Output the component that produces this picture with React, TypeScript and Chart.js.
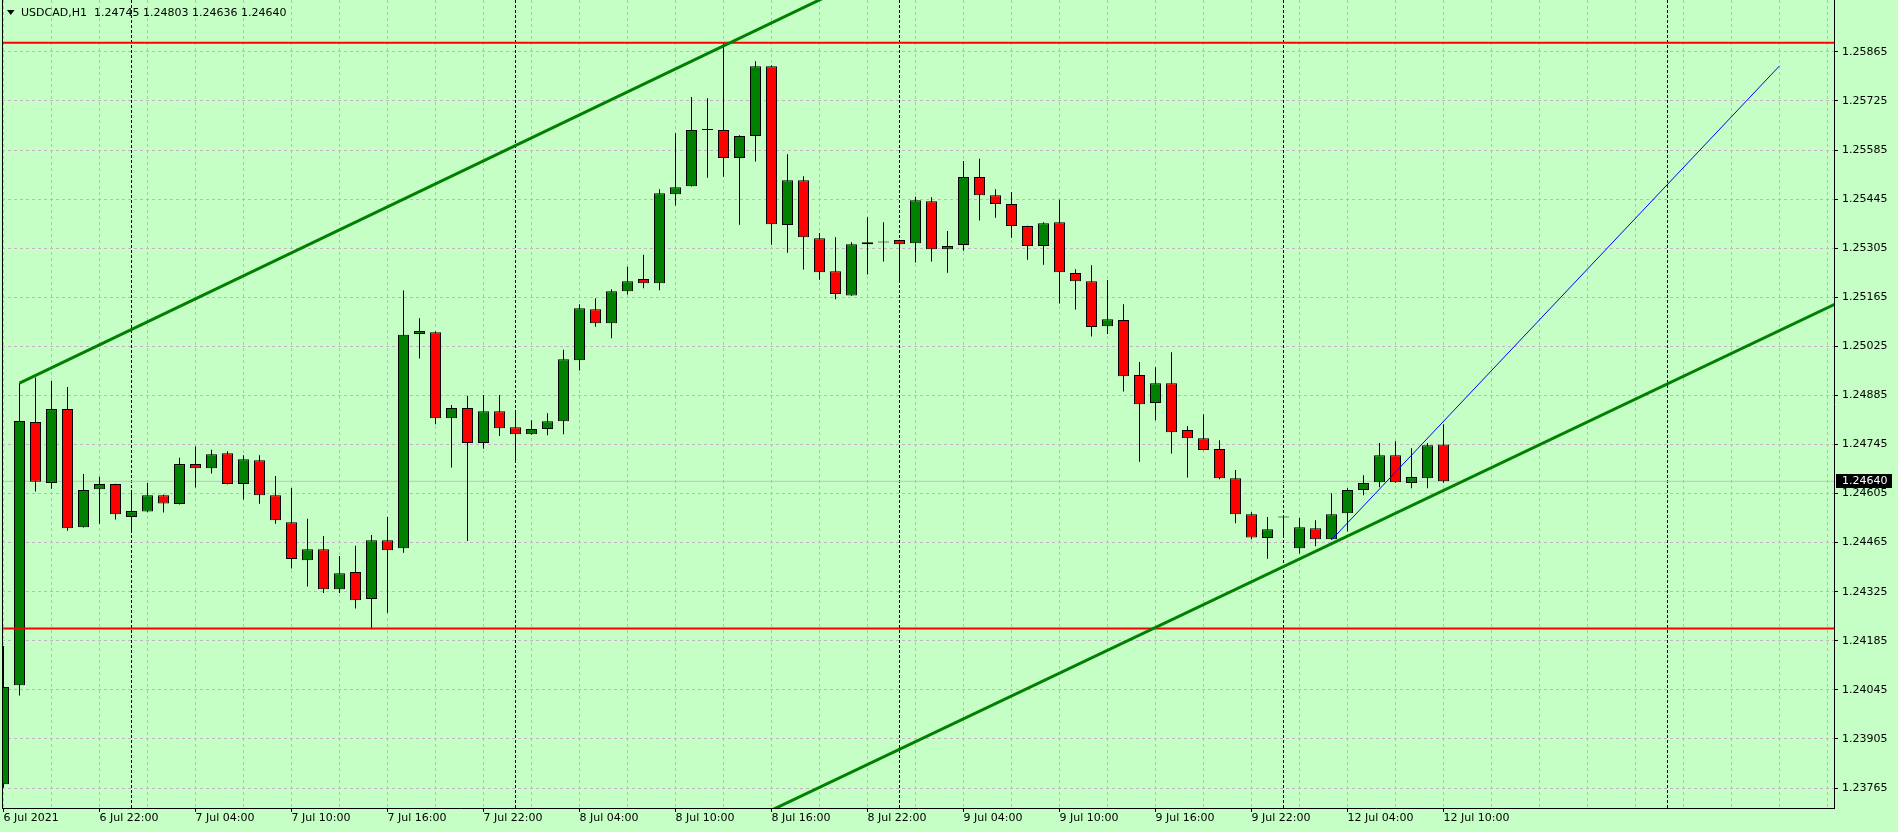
import React, { useEffect, useRef } from 'react';
import { Chart, registerables } from 'chart.js';

Chart.register(...registerables);

// ---- Data (hourly bars, 6 Jul 2021 16:00 -> 12 Jul 2021 10:00) ----
const opens = [
  1.23776, 1.24058, 1.24809, 1.24635, 1.24846, 1.24509, 1.24617, 1.24632, 1.24538, 1.24554,
  1.24600, 1.24575, 1.24689, 1.24677, 1.24720, 1.24632, 1.24700, 1.24600, 1.24523, 1.24415,
  1.24446, 1.24332, 1.24381, 1.24304, 1.24472, 1.24449, 1.25060, 1.25065, 1.24820, 1.24849,
  1.24749, 1.24840, 1.24794, 1.24774, 1.24789, 1.24811, 1.24985, 1.25131, 1.25091, 1.25182,
  1.25217, 1.25205, 1.25459, 1.25482, 1.25642, 1.25642, 1.25562, 1.25625, 1.25824, 1.25371,
  1.25499, 1.25333, 1.25239, 1.25170, 1.25316, 1.25321, 1.25328, 1.25319, 1.25439, 1.25302,
  1.25314, 1.25508, 1.25456, 1.25431, 1.25368, 1.25311, 1.25379, 1.25234, 1.25211, 1.25082,
  1.25100, 1.24943, 1.24863, 1.24920, 1.24786, 1.24763, 1.24732, 1.24649, 1.24546, 1.24478,
  1.24537, 1.24449, 1.24506, 1.24475, 1.24549, 1.24615, 1.24637, 1.24714, 1.24635, 1.24649,
  1.24745,
];
const highs = [
  1.24170, 1.24920, 1.24936, 1.24926, 1.24909, 1.24661, 1.24653, 1.24633, 1.24608, 1.24635,
  1.24602, 1.24707, 1.24739, 1.24730, 1.24726, 1.24714, 1.24714, 1.24655, 1.24621, 1.24533,
  1.24484, 1.24427, 1.24456, 1.24487, 1.24538, 1.25184, 1.25105, 1.25068, 1.24858, 1.24884,
  1.24886, 1.24886, 1.24843, 1.24814, 1.24834, 1.25015, 1.25145, 1.25162, 1.25188, 1.25252,
  1.25286, 1.25473, 1.25633, 1.25736, 1.25733, 1.25892, 1.25627, 1.25838, 1.25827, 1.25573,
  1.25510, 1.25348, 1.25336, 1.25322, 1.25393, 1.25379, 1.25329, 1.25452, 1.25450, 1.25354,
  1.25554, 1.25560, 1.25473, 1.25465, 1.25369, 1.25379, 1.25443, 1.25245, 1.25256, 1.25214,
  1.25145, 1.24980, 1.24965, 1.25008, 1.24797, 1.24831, 1.24757, 1.24672, 1.24552, 1.24538,
  1.24537, 1.24535, 1.24529, 1.24606, 1.24620, 1.24657, 1.24749, 1.24754, 1.24734, 1.24749,
  1.24803,
];
const lows = [
  1.23766, 1.24029, 1.24611, 1.24619, 1.24499, 1.24508, 1.24519, 1.24531, 1.24494, 1.24552,
  1.24551, 1.24574, 1.24622, 1.24662, 1.24631, 1.24588, 1.24576, 1.24519, 1.24391, 1.24340,
  1.24321, 1.24321, 1.24277, 1.24218, 1.24265, 1.24436, 1.24990, 1.24803, 1.24679, 1.24470,
  1.24733, 1.24769, 1.24699, 1.24773, 1.24771, 1.24774, 1.24956, 1.25081, 1.25048, 1.25173,
  1.25191, 1.25185, 1.25427, 1.25481, 1.25506, 1.25509, 1.25372, 1.25552, 1.25315, 1.25292,
  1.25244, 1.25215, 1.25159, 1.25169, 1.25230, 1.25267, 1.25208, 1.25264, 1.25267, 1.25235,
  1.25298, 1.25384, 1.25392, 1.25335, 1.25272, 1.25258, 1.25147, 1.25130, 1.25053, 1.25060,
  1.24896, 1.24696, 1.24814, 1.24719, 1.24651, 1.24728, 1.24646, 1.24520, 1.24475, 1.24419,
  1.24478, 1.24434, 1.24455, 1.24474, 1.24497, 1.24600, 1.24623, 1.24636, 1.24620, 1.24620,
  1.24636,
];
const closes = [
  1.24053, 1.24812, 1.24639, 1.24846, 1.24506, 1.24615, 1.24632, 1.24546, 1.24555, 1.24600,
  1.24577, 1.24689, 1.24677, 1.24717, 1.24632, 1.24703, 1.24600, 1.24529, 1.24418, 1.24446,
  1.24332, 1.24378, 1.24301, 1.24472, 1.24443, 1.25058, 1.25069, 1.24820, 1.24849, 1.24749,
  1.24840, 1.24791, 1.24774, 1.24789, 1.24811, 1.24988, 1.25134, 1.25091, 1.25182, 1.25211,
  1.25205, 1.25462, 1.25479, 1.25642, 1.25642, 1.25562, 1.25625, 1.25824, 1.25373, 1.25499,
  1.25336, 1.25236, 1.25174, 1.25316, 1.25322, 1.25321, 1.25316, 1.25442, 1.25302, 1.25311,
  1.25508, 1.25456, 1.25431, 1.25368, 1.25311, 1.25376, 1.25236, 1.25211, 1.25080, 1.25102,
  1.24940, 1.24860, 1.24920, 1.24780, 1.24763, 1.24729, 1.24649, 1.24546, 1.24480, 1.24503,
  1.24537, 1.24509, 1.24475, 1.24546, 1.24615, 1.24635, 1.24714, 1.24637, 1.24652, 1.24743,
  1.24640,
];

// x-axis: bar index positions of the time labels
const xTickBars = [0, 6, 12, 18, 24, 30, 36, 42, 48, 54, 60, 66, 72, 78, 84, 90];
const xTickLabels = [
  '6 Jul 2021', '6 Jul 22:00', '7 Jul 04:00', '7 Jul 10:00', '7 Jul 16:00', '7 Jul 22:00',
  '8 Jul 04:00', '8 Jul 10:00', '8 Jul 16:00', '8 Jul 22:00', '9 Jul 04:00', '9 Jul 10:00',
  '9 Jul 16:00', '9 Jul 22:00', '12 Jul 04:00', '12 Jul 10:00',
];
const xGridStep = 3;
const xMin = -0.09375;
const xMax = 114.40625;

// y-axis price ticks
const yTickValues = [
  1.23765, 1.23905, 1.24045, 1.24185, 1.24325, 1.24465, 1.24605, 1.24745,
  1.24885, 1.25025, 1.25165, 1.25305, 1.25445, 1.25585, 1.25725, 1.25865,
];
const yMin = 1.23708;
const yMax = 1.26013;

// day separators (bar index of 00:00)
const separatorBars = [8, 32, 56, 80, 104];

// drawn objects
const resistanceLevel = 1.25891;
const supportLevel = 1.2422;
const upperTrendX = [1, 60];
const upperTrendY = [1.2492, 1.2621];
const lowerTrendX = [40, 118];
const lowerTrendY = [1.23528, 1.25222];
const blueLineX = [83, 111];
const blueLineY = [1.24473, 1.25825];
const currentPrice = 1.2464;
const titleText = 'USDCAD,H1  1.24745 1.24803 1.24636 1.24640';

const BG = '#c5ffc5';
const GRID = '#c4b4c4';
const BULL = '#008000';
const BEAR = '#ff0000';
const FONT = '"DejaVu Sans", sans-serif';

export default function App() {
  const ref = useRef<HTMLCanvasElement | null>(null);

  useEffect(() => {
    document.body.style.margin = '0';
    const canvas = ref.current;
    if (!canvas) return;

    Chart.defaults.font.family = FONT;
    Chart.defaults.font.size = 11;
    Chart.defaults.color = '#000';

    const bodyData = opens.map((o, i) => ({ x: i, y: [o, closes[i]] }));
    const wickData = lows.map((l, i) => ({ x: i, y: [l, highs[i]] }));
    const bodyColors = opens.map((o, i) =>
      closes[i] > o ? BULL : closes[i] < o ? BEAR : '#000000'
    );
    const hLine = (v: number) => [
      { x: xMin - 2, y: v },
      { x: xMax + 2, y: v },
    ];
    const pts = (xs: number[], ys: number[]) => xs.map((x, i) => ({ x, y: ys[i] }));

    const gridTicks: number[] = [];
    for (let v = 0; v <= xMax; v += xGridStep) gridTicks.push(v);

    const decor = {
      id: 'decor',
      beforeDatasetsDraw(chart: any) {
        const { ctx, chartArea, scales } = chart;
        ctx.save();
        ctx.strokeStyle = '#000';
        ctx.lineWidth = 1;
        ctx.setLineDash([3, 2]);
        separatorBars.forEach((b) => {
          const px = Math.floor(scales.x.getPixelForValue(b)) + 0.5;
          ctx.beginPath();
          ctx.moveTo(px, chartArea.top);
          ctx.lineTo(px, chartArea.bottom);
          ctx.stroke();
        });
        ctx.restore();
      },
      afterDraw(chart: any) {
        const { ctx, chartArea, scales } = chart;
        ctx.save();
        // left frame line
        ctx.strokeStyle = '#000';
        ctx.lineWidth = 1;
        ctx.beginPath();
        ctx.moveTo(chartArea.left + 0.5, 0);
        ctx.lineTo(chartArea.left + 0.5, chartArea.bottom);
        ctx.stroke();
        // title
        ctx.fillStyle = '#000';
        ctx.beginPath();
        ctx.moveTo(7, 10);
        ctx.lineTo(14.5, 10);
        ctx.lineTo(10.75, 15);
        ctx.closePath();
        ctx.fill();
        ctx.font = '11px ' + FONT;
        ctx.textBaseline = 'middle';
        ctx.textAlign = 'left';
        ctx.fillText(titleText, 21, 13);
        // current price tag
        const py = Math.round(scales.y.getPixelForValue(currentPrice));
        ctx.fillStyle = '#000';
        ctx.fillRect(chartArea.right + 2, py - 7, 56, 14);
        ctx.fillStyle = '#fff';
        ctx.fillText(currentPrice.toFixed(5), chartArea.right + 8, py + 0.5);
        ctx.restore();
      },
    };

    const chart = new Chart(canvas, {
      type: 'bar',
      data: {
        datasets: [
          {
            type: 'line',
            data: pts(blueLineX, blueLineY),
            borderColor: '#0000ff',
            borderWidth: 1,
            pointRadius: 0,
            order: 1,
            clip: 0,
          },
          {
            type: 'line',
            data: pts(upperTrendX, upperTrendY),
            borderColor: BULL,
            borderWidth: 3,
            pointRadius: 0,
            order: 2,
            clip: 0,
          },
          {
            type: 'line',
            data: pts(lowerTrendX, lowerTrendY),
            borderColor: BULL,
            borderWidth: 3,
            pointRadius: 0,
            order: 2,
            clip: 0,
          },
          {
            type: 'line',
            data: hLine(resistanceLevel),
            borderColor: '#ff0000',
            borderWidth: 2,
            pointRadius: 0,
            order: 3,
            clip: 0,
          },
          {
            type: 'line',
            data: hLine(supportLevel),
            borderColor: '#ff0000',
            borderWidth: 2,
            pointRadius: 0,
            order: 3,
            clip: 0,
          },
          {
            type: 'bar',
            data: bodyData,
            backgroundColor: bodyColors,
            borderColor: '#000',
            borderWidth: 1,
            borderSkipped: false,
            barThickness: 11,
            minBarLength: 1,
            inflateAmount: 0,
            grouped: false,
            order: 5,
          },
          {
            type: 'bar',
            data: wickData,
            backgroundColor: '#000',
            borderWidth: 0,
            barThickness: 1,
            inflateAmount: 0,
            grouped: false,
            order: 6,
          },
          {
            type: 'line',
            data: hLine(currentPrice),
            borderColor: '#c0c0c0',
            borderWidth: 1,
            pointRadius: 0,
            order: 7,
            clip: 0,
          },
        ],
      } as any,
      options: {
        responsive: false,
        animation: false,
        devicePixelRatio: 1,
        events: [],
        layout: { padding: { left: 2, top: 0, right: 0, bottom: 0 } },
        plugins: {
          legend: { display: false },
          tooltip: { enabled: false },
          title: { display: false },
        },
        scales: {
          x: {
            type: 'linear',
            min: xMin,
            max: xMax,
            offset: false,
            afterBuildTicks: (s: any) => {
              s.ticks = gridTicks.map((v) => ({ value: v }));
            },
            afterFit: (s: any) => {
              s.height = 24;
              s.paddingLeft = 0;
              s.paddingRight = 0;
            },
            grid: {
              offset: false,
              color: GRID,
              lineWidth: 1,
              drawTicks: true,
              tickLength: 4,
              tickWidth: 1,
              tickColor: (c: any) =>
                c.tick && xTickBars.indexOf(c.tick.value) >= 0 ? '#000' : 'rgba(0,0,0,0)',
              tickBorderDash: [],
            },
            border: { display: true, color: '#000', width: 1, dash: [3, 3] },
            ticks: {
              autoSkip: false,
              maxRotation: 0,
              minRotation: 0,
              align: 'start',
              padding: 0,
              color: '#000',
              font: { family: FONT, size: 11 },
              callback: (v: any) => {
                const k = xTickBars.indexOf(Number(v));
                return k >= 0 ? xTickLabels[k] : '';
              },
            },
          },
          y: {
            type: 'linear',
            position: 'right',
            min: yMin,
            max: yMax,
            afterBuildTicks: (s: any) => {
              s.ticks = yTickValues.map((v) => ({ value: v }));
            },
            afterFit: (s: any) => {
              s.width = 64;
              s.paddingTop = 0;
              s.paddingBottom = 0;
            },
            grid: {
              color: GRID,
              lineWidth: 1,
              tickLength: 4,
              tickColor: '#000',
              tickBorderDash: [],
            },
            border: { display: true, color: '#000', width: 1, dash: [3, 3] },
            ticks: {
              padding: 4,
              color: '#000',
              font: { family: FONT, size: 11 },
              callback: (v: any) => Number(v).toFixed(5),
            },
          },
        },
      } as any,
      plugins: [decor],
    });

    return () => chart.destroy();
  }, []);

  return (
    <div
      style={{
        position: 'absolute',
        left: 0,
        top: 0,
        width: 1898,
        height: 832,
        background: BG,
      }}
    >
      <canvas
        ref={ref}
        width={1898}
        height={832}
        style={{ width: 1898, height: 832, display: 'block', background: BG }}
      />
    </div>
  );
}
